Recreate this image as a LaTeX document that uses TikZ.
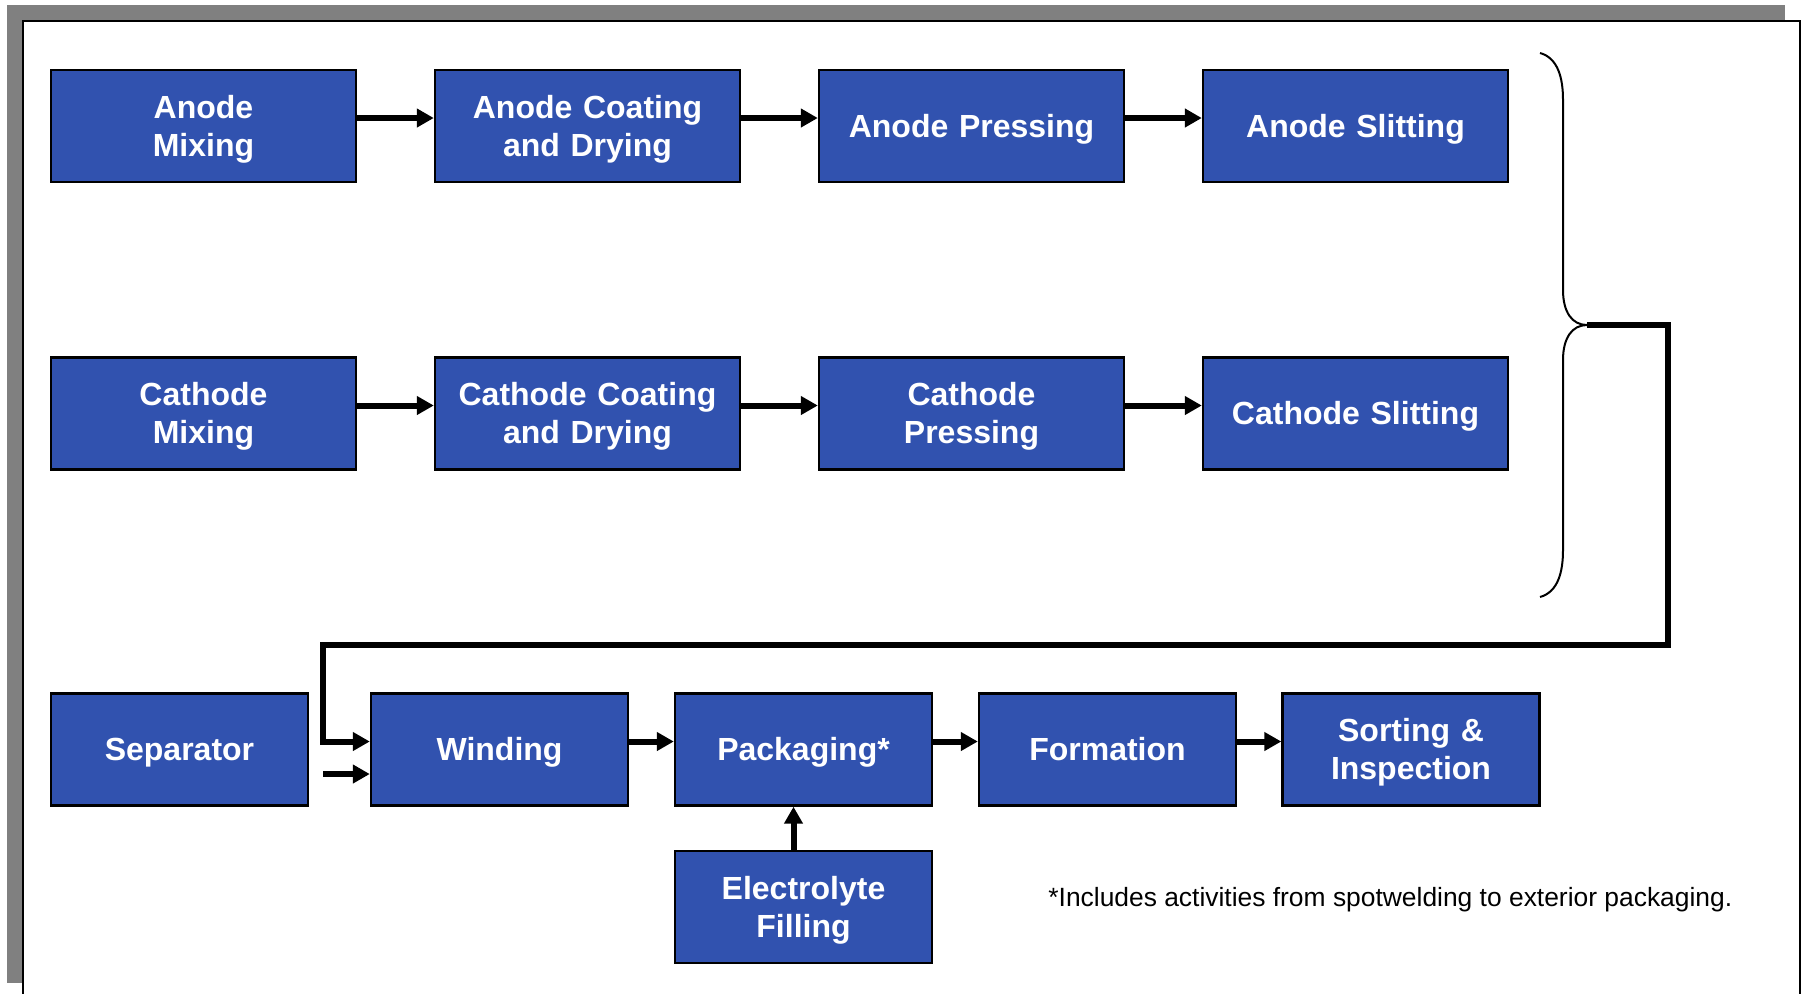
\documentclass[tikz,border=0pt]{standalone}
\usepackage{fontspec}
\setmainfont{Liberation Sans}
\usetikzlibrary{arrows.meta, positioning, calc}
\definecolor{stepblue}{HTML}{3152AF}
\definecolor{shadowgray}{HTML}{808080}
\newcommand{\topstrut}{\rule{0pt}{14.5pt}}
\newcommand{\botstrut}{\rule[-3.4pt]{0pt}{3.4pt}}
\tikzset{
  stepbox/.style={draw=black, line width=1.2pt, fill=stepblue, text=white,
    align=center, inner sep=0pt, minimum height=56pt,
    font=\fontsize{16}{19}\selectfont\bfseries,
    execute at begin node=\topstrut, execute at end node=\botstrut},
  widebox/.style={stepbox, minimum width=152.5pt, text width=150pt},
  narrowbox/.style={stepbox, minimum width=128.5pt, text width=126pt},
  flow/.style={line width=3pt, -{Triangle[length=8.5pt, width=9pt]}}
}

\begin{document}
\begin{tikzpicture}[x=0.5pt, y=-0.5pt]
  \useasboundingbox (0,0) rectangle (1804,993);
  % frame with shadow
  \fill[shadowgray] (7,5) rectangle (1785,983);
  \fill[white] (23,21) rectangle (1800,1010);
  \draw[line width=1.3pt] (23,1010) -- (23,21) -- (1800,21) -- (1800,1010);

  % anode line
  \node[widebox] (amix)  at (203.5,126) {Anode\\Mixing};
  \node[widebox] (acoat) at (587.5,126) {Anode Coating\\and Drying};
  \node[widebox] (apress) at (971.5,126) {Anode Pressing};
  \node[widebox] (aslit) at (1355.5,126) {Anode Slitting};

  % cathode line
  \node[widebox] (cmix)  at (203.5,413.5) {Cathode\\Mixing};
  \node[widebox] (ccoat) at (587.5,413.5) {Cathode Coating\\and Drying};
  \node[widebox] (cpress) at (971.5,413.5) {Cathode\\Pressing};
  \node[widebox] (cslit) at (1355.5,413.5) {Cathode Slitting};

  % assembly line
  \node[narrowbox] (sep)  at (179.5,749.5) {Separator};
  \node[narrowbox] (wind) at (499.5,749.5) {Winding};
  \node[narrowbox] (pack) at (803.5,749.5) {Packaging*};
  \node[narrowbox] (form) at (1107.5,749.5) {Formation};
  \node[narrowbox] (sort) at (1411,749.5) {Sorting \&\\Inspection};
  \node[narrowbox] (elec) at (803.5,907) {Electrolyte\\Filling};

  \draw[flow] ([yshift=4pt]amix.east) -- ([yshift=4pt]acoat.west);
  \draw[flow] ([yshift=4pt]acoat.east) -- ([yshift=4pt]apress.west);
  \draw[flow] ([yshift=4pt]apress.east) -- ([yshift=4pt]aslit.west);
  \draw[flow] ([yshift=4pt]cmix.east) -- ([yshift=4pt]ccoat.west);
  \draw[flow] ([yshift=4pt]ccoat.east) -- ([yshift=4pt]cpress.west);
  \draw[flow] ([yshift=4pt]cpress.east) -- ([yshift=4pt]cslit.west);
  \draw[flow] ([yshift=4pt]wind.east) -- ([yshift=4pt]pack.west);
  \draw[flow] ([yshift=4pt]pack.east) -- ([yshift=4pt]form.west);
  \draw[flow] ([yshift=4pt]form.east) -- ([yshift=4pt]sort.west);
  \draw[flow] ([xshift=-5pt]elec.north) -- ([xshift=-5pt]pack.south);

  % brace joining both electrode lines
  \draw[line width=1pt] (1540,53) .. controls (1558,58) and (1563,78) .. (1563,100)
    -- (1563,290) .. controls (1563,312) and (1572,325) .. (1587,325)
    .. controls (1572,325) and (1563,338) .. (1563,360)
    -- (1563,550) .. controls (1563,572) and (1558,592) .. (1540,597);
  \coordinate (bracetip) at (1587,325);
  \coordinate (sepin) at (323,774);
  \draw[flow] (bracetip) -| (1668,645) -- (323,645) |- ([yshift=4pt]wind.west);
  \draw[flow] (sepin) -- (sepin -| wind.west);

  \node[anchor=base west, inner sep=0pt, font=\fontsize{13.2}{15}\selectfont]
    (note) at (1048,906) {*Includes activities from spotwelding to exterior packaging.};
\end{tikzpicture}
\end{document}
